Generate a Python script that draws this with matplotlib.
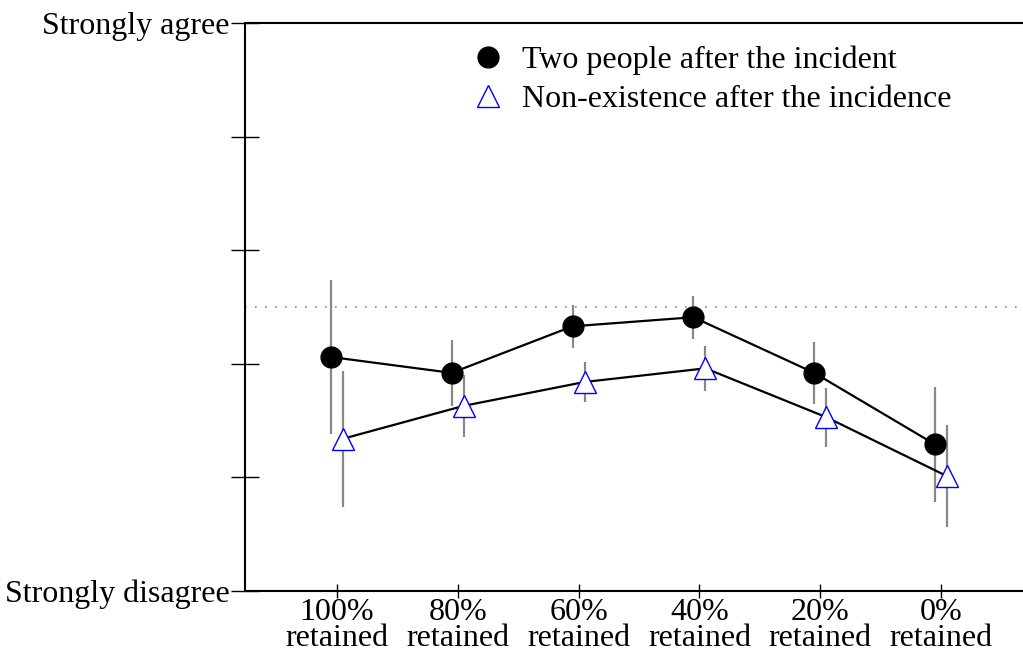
import matplotlib
matplotlib.use("Agg")
import matplotlib.pyplot as plt
import numpy as np

categories = ["100%\nretained", "80%\nretained", "60%\nretained", "40%\nretained", "20%\nretained", "0%\nretained"]
two_people = [3.06, 2.92, 3.33, 3.41, 2.92, 2.29]
two_people_err = [0.68, 0.29, 0.19, 0.19, 0.27, 0.51]
non_existence = [2.34, 2.63, 2.84, 2.96, 2.53, 2.01]
non_existence_err = [0.60, 0.27, 0.18, 0.20, 0.26, 0.45]
ytick_vals = [1, 2, 3, 4, 5, 6]
ytick_labels = ["Strongly disagree", "", "", "", "", "Strongly agree"]
neutral = 3.5

plt.rcParams['font.family'] = ['Liberation Serif', 'DejaVu Serif']
plt.rcParams['font.size'] = 23

fig = plt.figure(figsize=(10.23, 6.52), dpi=100)
ax = fig.add_axes([245/1023, 61/652, (1033-245)/1023, 568/652])

x = np.arange(len(categories))
off = 0.05

ax.axhline(neutral, color='#888888', linestyle=(0, (1, 5)), lw=1.2, zorder=1)

ax.errorbar(x - off, two_people, yerr=two_people_err, fmt='none', ecolor='#888888', elinewidth=1.6, zorder=2)
ax.errorbar(x + off, non_existence, yerr=non_existence_err, fmt='none', ecolor='#888888', elinewidth=1.6, zorder=2)

ax.plot(x - off, two_people, color='black', lw=1.6, zorder=3)
ax.plot(x + off, non_existence, color='black', lw=1.6, zorder=3)

ax.plot(x - off, two_people, linestyle='none', marker='o', markersize=15,
        markerfacecolor='black', markeredgecolor='black', zorder=4,
        label='Two people after the incident')
ax.plot(x + off, non_existence, linestyle='none', marker='^', markersize=16,
        markerfacecolor='white', markeredgecolor='blue', markeredgewidth=1.0, zorder=4,
        label='Non-existence after the incidence')

ax.set_xlim(-0.76, 5.76)
ax.set_ylim(1, 6)
ax.set_xticks(x)
ax.set_xticklabels(categories, linespacing=0.85)
ax.set_yticks(ytick_vals)
ax.set_yticklabels(ytick_labels)
ax.tick_params(axis='y', direction='inout', length=20, width=1, pad=1)
ax.tick_params(axis='x', direction='inout', length=10, width=1, pad=0)

ax.spines['right'].set_visible(False)
for s in ['left', 'top', 'bottom']:
    ax.spines[s].set_linewidth(1.5)

ax.legend(loc='upper left', bbox_to_anchor=(0.25, 1.0), frameon=False,
          handletextpad=0.3, labelspacing=0.3, borderaxespad=0.3, handlelength=1.5)

fig.savefig("out.png", dpi=100)
